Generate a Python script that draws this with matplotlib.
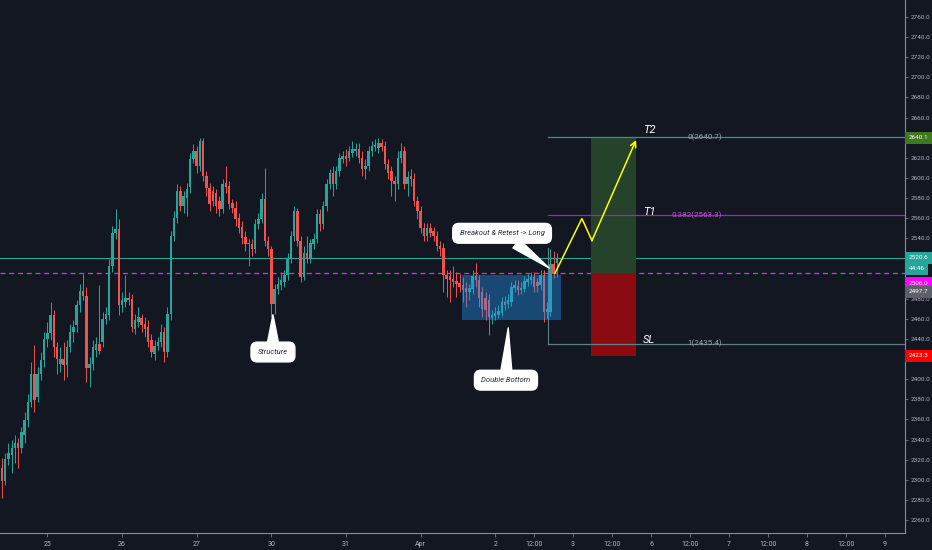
import matplotlib
matplotlib.use("Agg")
import matplotlib.pyplot as plt
from matplotlib.patches import Rectangle
import numpy as np

plt.rcParams['font.family'] = ['Roboto', 'DejaVu Sans']

# ---------------- data (hourly XAUUSD-like candles) ----------------
opens = [2312,2299,2321,2325,2332,2337,2332,2345,2359,2377,
2405,2382,2405,2419,2440,2446,2464,2432,2415,2420,
2414,2432,2447,2454,2474,2488,2483,2411,2415,2429,
2435,2437,2460,2464,2512,2545,2549,2474,2477,2481,
2480,2450,2457,2461,2455,2452,2439,2425,2433,2437,
2447,2427,2465,2542,2560,2587,2572,2580,2591,2619,
2627,2612,2637,2602,2590,2587,2585,2577,2569,2595,
2592,2575,2570,2560,2551,2541,2534,2534,2529,2554,
2559,2579,2537,2529,2475,2490,2494,2497,2504,2519,
2542,2567,2537,2502,2525,2520,2534,2539,2564,2554,
2572,2594,2605,2594,2607,2619,2622,2620,2625,2627,
2629,2620,2609,2612,2627,2631,2630,2635,2632,2614,
2607,2597,2594,2620,2627,2594,2602,2599,2577,2567,
2550,2542,2550,2547,2542,2532,2530,2504,2503,2500,
2498,2496,2494,2491,2487,2490,2503,2499,2487,2481,
2479,2461,2463,2464,2466,2477,2475,2477,2491,2493,
2489,2490,2497,2499,2502,2497,2494,2504,2467,2467,
2514,2515]
highs = [2322,2327,2337,2340,2345,2342,2352,2367,2385,2417,
2434,2412,2427,2447,2457,2477,2469,2437,2432,2437,
2439,2455,2459,2479,2495,2505,2492,2422,2439,2442,
2494,2467,2472,2519,2552,2569,2559,2487,2504,2487,
2485,2465,2472,2465,2462,2459,2445,2439,2442,2455,
2452,2472,2547,2567,2594,2592,2587,2595,2625,2634,
2632,2640,2640,2607,2595,2592,2589,2582,2599,2612,
2597,2579,2577,2565,2557,2547,2539,2539,2559,2565,
2585,2610,2542,2532,2495,2502,2507,2509,2525,2547,
2572,2570,2542,2532,2542,2539,2545,2569,2569,2577,
2599,2609,2612,2612,2625,2627,2629,2632,2637,2635,
2635,2627,2619,2632,2637,2639,2640,2639,2637,2619,
2612,2602,2627,2635,2632,2607,2609,2605,2582,2572,
2555,2555,2555,2551,2547,2537,2535,2509,2509,2512,
2507,2505,2502,2497,2495,2509,2515,2504,2492,2487,
2485,2469,2472,2474,2482,2483,2485,2497,2499,2499,
2497,2503,2505,2507,2507,2501,2509,2509,2477,2529,
2527,2525]
lows = [2282,2295,2315,2307,2317,2312,2327,2337,2352,2372,
2367,2377,2399,2412,2432,2439,2422,2405,2407,2399,
2402,2427,2437,2447,2467,2479,2397,2392,2409,2422,
2425,2432,2455,2459,2507,2539,2464,2467,2472,2474,
2447,2445,2452,2447,2442,2432,2422,2419,2429,2432,
2417,2422,2459,2537,2555,2567,2565,2562,2585,2615,
2605,2607,2597,2582,2567,2572,2565,2562,2565,2585,
2569,2565,2552,2545,2534,2527,2512,2522,2525,2549,
2555,2532,2522,2462,2465,2485,2489,2492,2499,2515,
2537,2532,2497,2499,2515,2515,2529,2535,2547,2549,
2567,2589,2582,2589,2602,2615,2612,2617,2621,2622,
2615,2602,2599,2607,2622,2627,2625,2627,2609,2599,
2582,2577,2589,2615,2589,2582,2592,2572,2559,2545,
2537,2537,2541,2537,2527,2522,2487,2482,2477,2492,
2482,2487,2477,2472,2479,2485,2492,2472,2462,2459,
2444,2455,2459,2461,2463,2469,2471,2473,2487,2484,
2485,2487,2493,2495,2487,2487,2489,2457,2461,2463,
2501,2502]
closes = [2299,2321,2327,2332,2337,2332,2347,2359,2377,2405,
2379,2405,2419,2440,2446,2464,2432,2420,2420,2414,
2432,2447,2452,2474,2488,2483,2411,2415,2432,2435,
2428,2460,2465,2512,2545,2549,2474,2479,2481,2479,
2452,2459,2462,2454,2450,2437,2427,2433,2437,2447,
2427,2465,2542,2560,2587,2572,2582,2589,2619,2627,
2612,2637,2602,2590,2574,2577,2572,2569,2594,2591,
2574,2570,2559,2550,2540,2534,2535,2529,2554,2559,
2579,2537,2529,2475,2490,2495,2499,2504,2520,2542,
2567,2537,2502,2525,2519,2535,2539,2564,2554,2572,
2594,2605,2594,2607,2620,2622,2619,2627,2629,2629,
2620,2609,2612,2627,2632,2633,2635,2631,2614,2605,
2597,2594,2620,2627,2594,2601,2599,2577,2567,2550,
2542,2550,2545,2542,2532,2529,2504,2500,2499,2497,
2495,2492,2489,2487,2491,2503,2499,2481,2470,2469,
2462,2464,2466,2468,2477,2474,2479,2492,2494,2489,
2491,2498,2500,2502,2492,2493,2504,2467,2470,2514,
2505,2520.6]

# time axis (bar index of each label)
tick_bars = [14, 37, 60, 83, 106, 129, 152, 164, 176, 188, 200, 212, 224, 236, 248, 260, 272]
tick_labels = ['25', '26', '27', '30', '31', 'Apr', '2', '12:00', '3', '12:00',
               '6', '12:00', '7', '12:00', '8', '12:00', '9']
price_ticks = list(range(2260, 2761, 20))
covered_ticks = [2640, 2520, 2500, 2420]   # hidden behind the price badges

# levels / drawings
last_price = 2520.6
dashed_level = 2506.0
fib_levels = [2640.7, 2563.3, 2435.4]
fib_names = ['0', '0.382', '1']
entry, target, stop = 2506.0, 2640.1, 2423.3
extra_label = 2497.7
box_bars = (141.8, 172.3)
box_prices = (2459.0, 2504.0)
pos_bars = (181.5, 195.4)
fib_start_bar = 168.3
fib_label_bar = 221.9
zig_bars = [170.4, 178.7, 181.8, 195.4]
zig_prices = [2505.3, 2559.7, 2537.7, 2637.7]

# ---------------- figure ----------------
BG = '#131722'
fig = plt.figure(figsize=(9.32, 5.5), dpi=100, facecolor=BG)
ax = fig.add_axes([0, 17 / 550, 905 / 932, 533 / 550])
ax.set_facecolor(BG)

n = len(closes)
idx = np.arange(n)
o = np.array(opens, float); h = np.array(highs, float)
l = np.array(lows, float); c = np.array(closes, float)
up = c >= o
UPC, DNC = '#26a69a', '#ef5350'
cols = np.where(up, UPC, DNC)

ax.vlines(idx, l, h, colors=cols, linewidth=0.7, zorder=2)
body_h = np.maximum(np.abs(c - o), 0.9)
ax.bar(idx, body_h, bottom=np.minimum(o, c), width=0.76, color=cols,
       linewidth=0, zorder=2)

# price lines
ax.axhline(last_price, color='#26a69a', lw=0.8, zorder=1)
ax.axhline(dashed_level, color='#c33ee0', lw=0.9, ls=(0, (4, 3)), zorder=1)

# blue consolidation box
ax.add_patch(Rectangle((box_bars[0], box_prices[0]), box_bars[1] - box_bars[0],
                       box_prices[1] - box_prices[0], fc='#2196f3', alpha=0.4,
                       ec='none', zorder=3))

# long position tool
ax.add_patch(Rectangle((pos_bars[0], entry), pos_bars[1] - pos_bars[0], target - entry,
                       fc='#25422a', ec='none', zorder=1))
ax.add_patch(Rectangle((pos_bars[0], stop), pos_bars[1] - pos_bars[0], entry - stop,
                       fc='#8a0c12', ec='none', zorder=1))

# fib lines
xmax = 278.27
fib_cols = ['#5f7f88', '#9c27b0', '#5f7f88']
lab_cols = ['#93a8b0', '#c846e0', '#93a8b0']
for lev, nm, fc, lc in zip(fib_levels, fib_names, fib_cols, lab_cols):
    ax.plot([fib_start_bar, xmax], [lev, lev], color=fc, lw=0.9, zorder=1)
    ax.text(fib_label_bar, lev, f'{nm}({lev:.1f})', color=lc, fontsize=5.8,
            ha='right', va='center', zorder=4)
ax.plot([fib_start_bar, fib_start_bar], [fib_levels[2], 2530.5], color='#5f7f88',
        lw=0.8, zorder=1)

# T / SL labels
for txt, lev in [('T2', 2648), ('T1', 2566), ('SL', 2439)]:
    ax.text(197.5, lev, txt, color='white', fontsize=8, style='italic',
            ha='left', va='center', zorder=5)

# yellow projected path
ax.plot(zig_bars[:-1], zig_prices[:-1], color='#ffff00', lw=1.1, zorder=5,
        solid_joinstyle='miter')
ax.annotate('', xy=(zig_bars[-1], zig_prices[-1]), xytext=(zig_bars[-2], zig_prices[-2]),
            arrowprops=dict(arrowstyle='->', color='#ffff00', lw=1.1,
                            shrinkA=0, shrinkB=0, mutation_scale=10), zorder=5)

# callouts
def callout(text, tip, center):
    ax.annotate(text, xy=tip, xytext=center, ha='center', va='center',
                fontsize=5.5, style='italic', color='#2a2e39', zorder=6,
                bbox=dict(boxstyle='round,pad=0.9,rounding_size=0.8', fc='white', ec='white'),
                arrowprops=dict(arrowstyle='wedge,tail_width=1.4,shrink_factor=0.5',
                                fc='white', ec='white', shrinkA=0, shrinkB=0))

callout('Breakout & Retest -> Long', (168.6, 2510.5), (154.1, 2545.0))
callout('Structure', (83.5, 2464.0), (83.5, 2427.0))
callout('Double Bottom', (156.0, 2451.0), (155.3, 2399.0))

# ---------------- axes ----------------
ax.set_xlim(-0.616, xmax)
ax.set_ylim(2247.1, 2776.9)
ax.yaxis.tick_right()
ax.set_yticks(price_ticks)
ax.set_yticklabels(['' if p in covered_ticks else f'{p:.1f}' for p in price_ticks])
ax.set_xticks(tick_bars)
ax.set_xticklabels(tick_labels)
ax.tick_params(axis='y', direction='out', length=2.5, width=0.6, color='#787b86',
               labelcolor='#b2b5be', labelsize=4.6, pad=1.5)
ax.tick_params(axis='x', direction='out', length=3, width=0.6, color='#787b86',
               labelcolor='#b2b5be', labelsize=5.0, pad=3)
for s in ['top', 'left']:
    ax.spines[s].set_visible(False)
for s in ['right', 'bottom']:
    ax.spines[s].set_color('#8a8e98')
    ax.spines[s].set_linewidth(0.8)

# right-axis price badges
ytr = ax.get_yaxis_transform()
def badge(text, price, fc, dy_px=0, tc='white'):
    ax.annotate(text, xy=(1, price), xycoords=ytr, xytext=(2.8, dy_px * 0.72),
                textcoords='offset points', ha='left', va='center', fontsize=4.6,
                color=tc, annotation_clip=False, zorder=10,
                bbox=dict(boxstyle='square,pad=0.55', fc=fc, ec='none'))

badge(f'{target:.1f}', target, '#3d7a1f')
badge(f'{last_price:.1f}', last_price, '#26a69a')
badge('44:46', last_price, '#26a69a', dy_px=-11)
badge(f'{dashed_level:.1f}', dashed_level, '#ff00ff', dy_px=-10.5)
badge(f'{extra_label:.1f}', extra_label, '#5d606b', dy_px=-11)
badge(f'{stop:.1f}', stop, '#ff0000')

fig.savefig('out.png', dpi=100, facecolor=BG)
